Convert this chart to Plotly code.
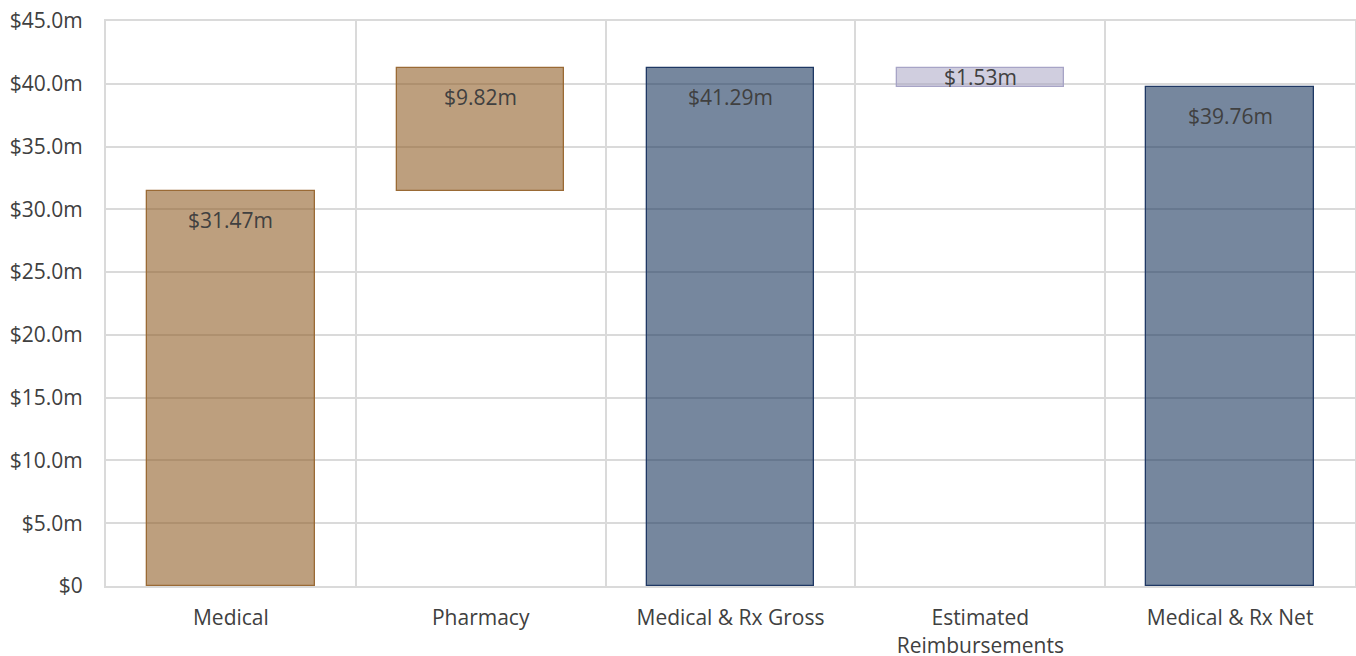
import plotly.graph_objects as go

categories = ["Medical", "Pharmacy", "Medical & Rx Gross", "Estimated<br>Reimbursements", "Medical & Rx Net"]
values = [31.47, 9.82, 41.29, -1.53, 39.76]
kinds = ["increase", "increase", "total", "decrease", "total"]
labels = ["$31.47m", "$9.82m", "$41.29m", "$1.53m", "$39.76m"]
y_tickvals = [0, 5, 10, 15, 20, 25, 30, 35, 40, 45]
y_ticktext = ["$0", "$5.0m", "$10.0m", "$15.0m", "$20.0m", "$25.0m", "$30.0m", "$35.0m", "$40.0m", "$45.0m"]

fill = {"increase": "rgba(145,95,40,0.6)", "total": "rgba(27,55,93,0.6)", "decrease": "rgba(170,166,196,0.55)"}
edge = {"increase": "#9A6A35", "total": "#1F3864", "decrease": "#A7A4C6"}

# compute bases/heights for waterfall
bases, heights = [], []
running = 0.0
for v, k in zip(values, kinds):
    if k == "total":
        bases.append(0.0)
        heights.append(v)
        running = v
    elif k == "increase":
        bases.append(running)
        heights.append(v)
        running += v
    else:
        running += v
        bases.append(running)
        heights.append(-v)

xs = list(range(len(categories)))
fig = go.Figure()
fig.add_trace(go.Bar(
    x=xs, y=heights, base=bases, width=0.67,
    marker=dict(color=[fill[k] for k in kinds],
                line=dict(color=[edge[k] for k in kinds], width=1.3)),
    hoverinfo="skip", showlegend=False,
))

FONT = "Open Sans, Liberation Sans, sans-serif"
TXT = "#404040"
GRID = "#DADADA"
for x, b, h, lab in zip(xs, bases, heights, labels):
    if h < 3:
        fig.add_annotation(x=x, y=b + h / 2, text=lab, showarrow=False,
                           yanchor="middle", font=dict(family=FONT, size=21, color=TXT))
    else:
        fig.add_annotation(x=x, y=b + h, text=lab, showarrow=False,
                           yanchor="middle", yshift=-29, font=dict(family=FONT, size=21, color=TXT))

fig.update_layout(
    width=1356, height=656,
    margin=dict(l=106, r=1, t=21, b=70),
    paper_bgcolor="white", plot_bgcolor="white",
    font=dict(family=FONT, size=21, color=TXT),
    bargap=0,
)
fig.update_xaxes(
    range=[-0.5, 4.5], tickvals=xs, ticktext=categories,
    showgrid=False, zeroline=False, showline=True, linecolor=GRID, linewidth=2, mirror=True,
    ticks="", ticklabelstandoff=12, automargin=False,
    minor=dict(tickvals=[i - 0.5 for i in range(len(categories) + 1)],
               showgrid=True, gridcolor=GRID, gridwidth=2, ticks=""),
)
fig.update_yaxes(
    range=[0, 45], tickvals=y_tickvals, ticktext=y_ticktext,
    showgrid=True, gridcolor=GRID, gridwidth=2,
    zeroline=False, showline=True, linecolor=GRID, linewidth=2, mirror=True,
    ticks="", ticklabelstandoff=17, automargin=False,
)
fig.write_html("out.html", config={"displayModeBar": False},
               post_script="document.body.style.margin='0';document.body.style.overflow='hidden';")
